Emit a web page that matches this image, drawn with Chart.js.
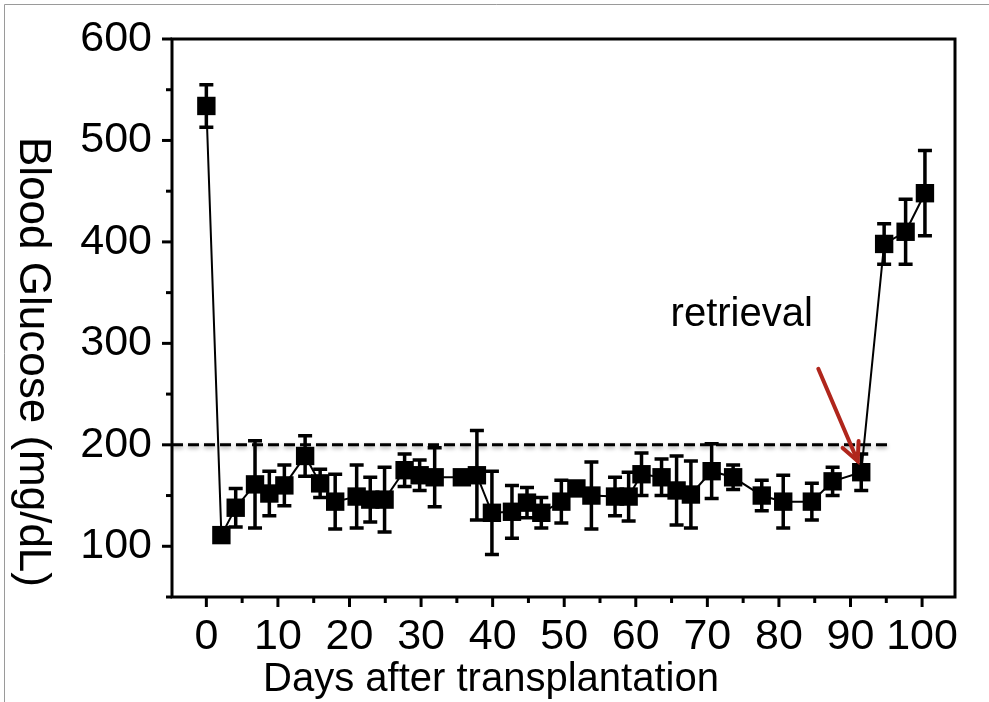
<!DOCTYPE html>
<html><head><meta charset="utf-8">
<script src="https://cdn.jsdelivr.net/npm/chart.js@4.4.1/dist/chart.umd.min.js"></script>
<style>html,body{margin:0;padding:0;background:#fff;}#wrap{position:relative;width:989px;height:702px;}</style>
</head><body><div id="wrap"><canvas id="c" width="989" height="702"></canvas></div>
<script>
// ---- data ----
const days    = [0, 2.1, 4.1, 6.8, 8.8, 10.9, 13.8, 15.9, 18.0, 21.0, 22.9, 24.9, 27.7, 29.8, 31.9, 35.7, 37.8, 39.9, 42.7, 44.8, 46.8, 49.6, 51.7, 53.8, 57.1, 59.0, 60.8, 63.6, 65.7, 67.7, 70.6, 73.6, 77.6, 80.6, 84.6, 87.5, 91.5, 94.7, 97.7, 100.4];
const glucose = [534, 111, 138, 161, 152, 160, 189, 162, 144, 149, 146, 146, 175, 170, 168, 168, 170, 133, 134, 143, 133, 144, 157, 150, 149, 149, 171, 168, 155, 151, 174, 168, 150, 144, 144, 164, 173, 398, 410, 448];
const sem     = [21, 5, 19, 43, 22, 20, 20, 14, 27, 31, 22, 32, 16, 15, 29, 5, 44, 41, 26, 15, 15, 21, 6, 33, 19, 24, 21, 18, 34, 33, 27, 12, 15, 26, 18, 14, 18, 20, 32, 42];
const thresholdValue = [200, 200];
const thresholdDays  = [-4.8, 95.5];
const yTickValues = [100, 200, 300, 400, 500, 600];
const xTickValues = [0, 10, 20, 30, 40, 50, 60, 70, 80, 90, 100];
const annotationLabel = 'retrieval';
const annotationAt = [74.8, 328];
const arrowFrom = [85.5, 275];
const arrowTo   = [91.0, 184];
const xTitle = 'Days after transplantation';
const yTitle = 'Blood Glucose (mg/dL)';

const FONT = '"Liberation Sans", Arial, Helvetica, sans-serif';

const decor = {
  id: 'decor',
  beforeDraw(chart) {
    const ctx = chart.ctx;
    ctx.save();
    ctx.fillStyle = '#fff';
    ctx.fillRect(0, 0, chart.width, chart.height);
    ctx.strokeStyle = '#9a9a9a';
    ctx.lineWidth = 1;
    ctx.beginPath();
    ctx.moveTo(4.5, chart.height); ctx.lineTo(4.5, 4.5); ctx.lineTo(chart.width, 4.5);
    ctx.stroke();
    ctx.restore();
  },
  beforeDatasetDraw(chart, args) {
    if (args.index === 1) {
      const ctx = chart.ctx;
      ctx.save();
      ctx.shadowColor = 'rgba(0,0,0,0.35)';
      ctx.shadowBlur = 4;
      ctx.shadowOffsetY = 2;
    }
  },
  afterDatasetDraw(chart, args) {
    if (args.index === 1) chart.ctx.restore();
  },
  afterDatasetsDraw(chart) {
    const { ctx, chartArea: a, scales: { x, y } } = chart;
    ctx.save();
    ctx.strokeStyle = '#000';
    // error bars
    ctx.lineWidth = 3.5;
    days.forEach((d, i) => {
      const px = x.getPixelForValue(d);
      const t = y.getPixelForValue(glucose[i] + sem[i]);
      const b = y.getPixelForValue(glucose[i] - sem[i]);
      ctx.beginPath();
      ctx.moveTo(px, t); ctx.lineTo(px, b);
      ctx.moveTo(px - 7, t); ctx.lineTo(px + 7, t);
      ctx.moveTo(px - 7, b); ctx.lineTo(px + 7, b);
      ctx.stroke();
    });
    // axes frame
    ctx.lineWidth = 3;
    ctx.strokeRect(a.left, a.top, a.right - a.left, a.bottom - a.top);
    // ticks (major + minor)
    for (let v = 50; v <= 600; v += 50) {
      const py = y.getPixelForValue(v);
      const len = v % 100 === 0 ? 10 : 6;
      ctx.beginPath(); ctx.moveTo(a.left, py); ctx.lineTo(a.left - len, py); ctx.stroke();
    }
    for (let v = 0; v <= 100; v += 5) {
      const px = x.getPixelForValue(v);
      const len = v % 10 === 0 ? 10 : 6;
      ctx.beginPath(); ctx.moveTo(px, a.bottom); ctx.lineTo(px, a.bottom + len); ctx.stroke();
    }
    // arrow
    const x0 = x.getPixelForValue(arrowFrom[0]), y0 = y.getPixelForValue(arrowFrom[1]);
    const x1 = x.getPixelForValue(arrowTo[0]), y1 = y.getPixelForValue(arrowTo[1]);
    const ang = Math.atan2(y1 - y0, x1 - x0);
    ctx.strokeStyle = '#b0261c';
    ctx.lineWidth = 4;
    ctx.lineCap = 'round';
    ctx.beginPath(); ctx.moveTo(x0, y0); ctx.lineTo(x1, y1); ctx.stroke();
    const hl = 20, ha = 0.45;
    ctx.beginPath();
    ctx.moveTo(x1 - hl * Math.cos(ang - ha), y1 - hl * Math.sin(ang - ha));
    ctx.lineTo(x1, y1);
    ctx.lineTo(x1 - hl * Math.cos(ang + ha), y1 - hl * Math.sin(ang + ha));
    ctx.stroke();
    // annotation text
    ctx.fillStyle = '#000';
    ctx.font = '40px ' + FONT;
    ctx.textAlign = 'center';
    ctx.textBaseline = 'middle';
    ctx.fillText(annotationLabel, x.getPixelForValue(annotationAt[0]), y.getPixelForValue(annotationAt[1]));
    // axis titles
    ctx.font = '40px ' + FONT;
    ctx.fillText(xTitle, 491, 680);
    ctx.font = '44px ' + FONT;
    ctx.translate(32, 362);
    ctx.rotate(Math.PI / 2);
    ctx.fillText(yTitle, 0, 0);
    ctx.restore();
  }
};

new Chart(document.getElementById('c'), {
  type: 'line',
  data: {
    datasets: [
      {
        data: days.map((d, i) => ({ x: d, y: glucose[i] })),
        borderColor: '#000', borderWidth: 2, backgroundColor: '#000',
        pointStyle: 'rect', pointRadius: 13, pointBorderWidth: 0,
        pointBackgroundColor: '#000', tension: 0, order: 1, clip: false
      },
      {
        data: thresholdDays.map((d, i) => ({ x: d, y: thresholdValue[i] })),
        borderColor: '#000', borderWidth: 3, borderDash: [11, 5],
        pointRadius: 0, order: 2
      }
    ]
  },
  options: {
    responsive: false, animation: false, devicePixelRatio: 1,
    layout: { padding: { left: 0, right: 34, top: 39, bottom: 0 } },
    plugins: { legend: { display: false }, tooltip: { enabled: false } },
    scales: {
      x: {
        type: 'linear', min: -4.8, max: 104.6,
        afterBuildTicks: s => { s.ticks = xTickValues.map(v => ({ value: v })); },
        afterFit: s => { s.height = 105; s.paddingLeft = 0; s.paddingRight = 0; },
        grid: { display: false, drawTicks: false },
        border: { display: false },
        ticks: { autoSkip: false, maxRotation: 0, minRotation: 0, padding: 14, color: '#000', font: { family: FONT, size: 43 } }
      },
      y: {
        type: 'linear', min: 50, max: 600,
        afterBuildTicks: s => { s.ticks = yTickValues.map(v => ({ value: v })); },
        afterFit: s => { s.width = 172; s.paddingTop = 0; s.paddingBottom = 0; },
        grid: { display: false, drawTicks: false },
        border: { display: false },
        ticks: { padding: 20, color: '#000', font: { family: FONT, size: 43 } }
      }
    }
  },
  plugins: [decor]
});
</script></body></html>
